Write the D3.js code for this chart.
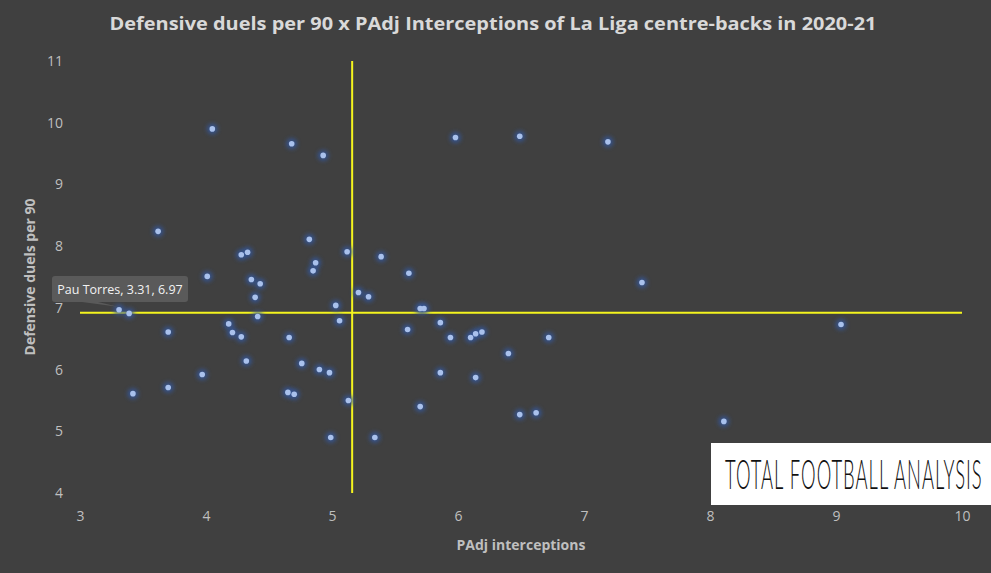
<!DOCTYPE html>
<html>
<head>
<meta charset="utf-8">
<script src="https://cdn.jsdelivr.net/npm/d3@7"></script>
<style>
html,body{margin:0;padding:0;background:#404040;}
svg{display:block;}
</style>
</head>
<body>
<svg id="chart" width="991" height="573"></svg>
<script>
const chartTitle = "Defensive duels per 90 x PAdj Interceptions of La Liga centre-backs in 2020-21";
const xTitle = "PAdj interceptions";
const yTitle = "Defensive duels per 90";
const xTicks = [3, 4, 5, 6, 7, 8, 9, 10];
const yTicks = [4, 5, 6, 7, 8, 9, 10, 11];
const avgInterceptions = 5.16;
const avgDuels = 6.92;
const highlightName = "Pau Torres";
const highlightX = 3.31;
const highlightY = 6.97;
const interceptions = [
  4.05, 4.68, 4.93, 3.62, 4.82, 4.28, 4.33, 5.12, 4.87, 4.85, 4.01, 4.36, 4.43,
  4.39, 3.31, 3.39, 4.41, 5.03, 5.06, 5.21, 5.29, 3.70, 4.18, 4.21, 4.28, 4.66,
  4.32, 4.76, 4.90, 4.98, 3.97, 3.70, 3.42, 4.65, 4.70, 5.13, 4.99,
  5.98, 6.49, 7.19, 5.39, 5.61, 5.70, 5.73, 7.46,
  5.60, 5.86, 5.94, 6.10, 6.14, 6.19, 6.72, 6.40, 5.86, 6.14, 5.70, 6.49, 6.62, 5.34,
  9.04, 8.11
];
const duels = [
  9.90, 9.66, 9.47, 8.24, 8.11, 7.86, 7.90, 7.91, 7.73, 7.60, 7.51, 7.46, 7.39,
  7.17, 6.97, 6.91, 6.86, 7.04, 6.79, 7.25, 7.18, 6.61, 6.74, 6.60, 6.53, 6.52,
  6.14, 6.10, 6.00, 5.95, 5.92, 5.71, 5.61, 5.63, 5.60, 5.50, 4.90,
  9.76, 9.78, 9.69, 7.83, 7.56, 6.99, 6.99, 7.41,
  6.65, 6.76, 6.52, 6.52, 6.58, 6.61, 6.52, 6.26, 5.95, 5.87, 5.40, 5.27, 5.30, 4.90,
  6.73, 5.16
];

const svg = d3.select("#chart");
const W = 991, H = 573;
const x = d3.scaleLinear().domain([3, 10]).range([80, 962]);
const y = d3.scaleLinear().domain([4, 11]).range([493, 61]);
const labelColor = "#bfbfbf";

svg.append("rect").attr("width", W).attr("height", H).attr("fill", "#404040");

const defs = svg.append("defs");
const f = defs.append("filter").attr("id", "glow").attr("x", "-100%").attr("y", "-100%").attr("width", "300%").attr("height", "300%");
f.append("feGaussianBlur").attr("stdDeviation", 2.2);

// Title
svg.append("text")
  .attr("x", 493).attr("y", 30)
  .attr("text-anchor", "middle")
  .attr("font-family", "'Open Sans', sans-serif")
  .attr("font-weight", "bold")
  .attr("font-size", 18)
  .attr("fill", "#d9d9d9")
  .attr("textLength", 767).attr("lengthAdjust", "spacingAndGlyphs")
  .text(chartTitle);

// Axes (labels only)
const xAxis = d3.axisBottom(x).tickValues(xTicks).tickSize(0).tickPadding(0).tickFormat(d3.format("d"));
const gx = svg.append("g").attr("transform", "translate(0,510)").call(xAxis);
gx.select(".domain").remove();
gx.selectAll("text").attr("fill", labelColor).attr("font-size", 14)
  .attr("font-family", "'Open Sans', sans-serif").attr("dy", "0.75em");

const yAxis = d3.axisLeft(y).tickValues(yTicks).tickSize(0).tickPadding(0).tickFormat(d3.format("d"));
const gy = svg.append("g").attr("transform", "translate(63,0)").call(yAxis);
gy.select(".domain").remove();
gy.selectAll("text").attr("fill", labelColor).attr("font-size", 14)
  .attr("font-family", "'Open Sans', sans-serif");

// Axis titles
svg.append("text")
  .attr("x", 521).attr("y", 550)
  .attr("text-anchor", "middle")
  .attr("font-family", "'Open Sans', sans-serif")
  .attr("font-weight", "bold").attr("font-size", 14)
  .attr("fill", labelColor)
  .text(xTitle);
svg.append("text")
  .attr("transform", "translate(35,277) rotate(-90)")
  .attr("text-anchor", "middle")
  .attr("font-family", "'Open Sans', sans-serif")
  .attr("font-weight", "bold").attr("font-size", 14)
  .attr("fill", labelColor)
  .text(yTitle);

// Average lines
svg.append("line")
  .attr("x1", x(3)).attr("x2", x(10))
  .attr("y1", y(avgDuels)).attr("y2", y(avgDuels))
  .attr("stroke", "#f5f51e").attr("stroke-width", 2);
svg.append("line")
  .attr("x1", x(avgInterceptions)).attr("x2", x(avgInterceptions))
  .attr("y1", y(11)).attr("y2", y(4))
  .attr("stroke", "#f5f51e").attr("stroke-width", 2);

// Points
const pts = interceptions.map((v, i) => ({x: v, y: duels[i]}));
const gp = svg.append("g");
gp.selectAll("circle.halo").data(pts).join("circle")
  .attr("class", "halo")
  .attr("cx", d => x(d.x)).attr("cy", d => y(d.y))
  .attr("r", 5.5).attr("fill", "#34589e").attr("opacity", 0.8)
  .attr("filter", "url(#glow)");
gp.selectAll("circle.dot").data(pts).join("circle")
  .attr("class", "dot")
  .attr("cx", d => x(d.x)).attr("cy", d => y(d.y))
  .attr("r", 2.8).attr("fill", "#a9c1ec");

// Callout
const hx = x(highlightX), hy = y(highlightY);
const box = {x0: 52, x1: 188, y0: 276, y1: 302};
const cg = svg.append("g");
cg.append("path")
  .attr("d", `M${box.x0 + 3},${box.y0} H${box.x1 - 3} Q${box.x1},${box.y0} ${box.x1},${box.y0 + 3} V${box.y1 - 3} Q${box.x1},${box.y1} ${box.x1 - 3},${box.y1} H${box.x0 + 46} L${hx - 1},${hy - 3} L${box.x0 + 30},${box.y1} H${box.x0 + 3} Q${box.x0},${box.y1} ${box.x0},${box.y1 - 3} V${box.y0 + 3} Q${box.x0},${box.y0} ${box.x0 + 3},${box.y0} Z`)
  .attr("fill", "#5a5a5a");
cg.append("text")
  .attr("x", (box.x0 + box.x1) / 2).attr("y", box.y0 + 18)
  .attr("text-anchor", "middle")
  .attr("font-family", "'Open Sans', sans-serif")
  .attr("font-size", 12.5).attr("fill", "#f2f2f2")
  .text(`${highlightName}, ${highlightX}, ${highlightY}`);

// Logo
const lg = svg.append("g");
lg.append("rect").attr("x", 711).attr("y", 443).attr("width", 280).attr("height", 62).attr("fill", "#ffffff");
const logoText = lg.append("text")
  .attr("x", 0).attr("y", 0)
  .attr("font-family", "Lato, 'DejaVu Sans', sans-serif")
  .attr("font-weight", 300)
  .attr("font-size", 20).attr("fill", "#111111")
  .attr("letter-spacing", 1)
  .text("TOTAL FOOTBALL ANALYSIS");
const natural = logoText.node().getComputedTextLength();
const target = 256;
const fs = 20 * target / natural;
logoText.attr("font-size", fs);
const capH = fs * 0.72;
const sy = 30 / capH;
logoText.attr("transform", `translate(725,489) scale(1,${sy})`);
</script>
</body>
</html>
